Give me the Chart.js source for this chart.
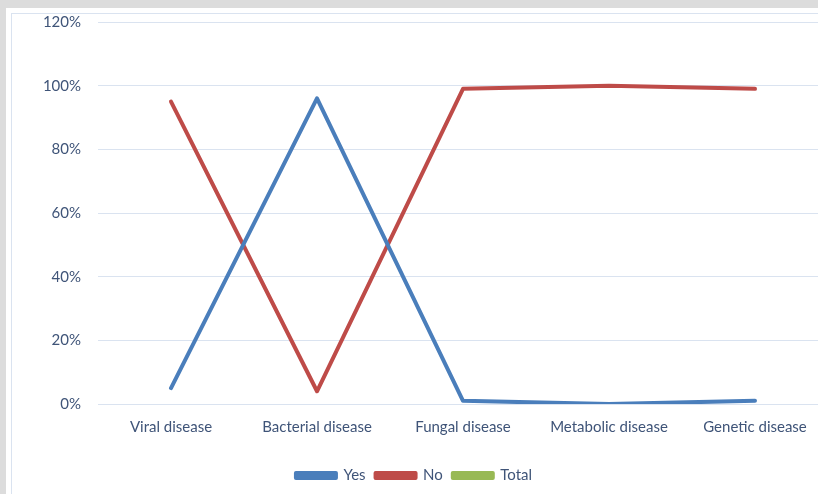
<!DOCTYPE html>
<html>
<head>
<meta charset="utf-8">
<script src="https://cdn.jsdelivr.net/npm/chart.js@4"></script>
<style>
  body { margin: 0; background: #dcdcdc; overflow: hidden; width: 818px; height: 494px; position: relative; }
  #panel { position: absolute; left: 6px; top: 8px; width: 830px; height: 500px; background: #fff; }
  #frame { position: absolute; left: 11px; top: 13px; width: 830px; height: 500px; border: 1px solid #dae3f0; box-sizing: border-box; }
  #wrap { position: absolute; left: 0; top: 0; width: 840px; height: 494px; }
</style>
</head>
<body>
<div id="panel"></div>
<div id="frame"></div>
<div id="wrap"><canvas id="chart"></canvas></div>
<script>
document.addEventListener("DOMContentLoaded", () => {
    const categories = ["Viral disease", "Bacterial disease", "Fungal disease", "Metabolic disease", "Genetic disease"];
    const yesValues = [5, 96, 1, 0, 1];
    const noValues = [95, 4, 99, 100, 99];
    const totalValues = [null, null, null, null, null]; // not drawn in the original
    const yTicks = [0, 20, 40, 60, 80, 100, 120];

    const textColor = "#3f5478";
    const font = { family: "Lato, 'Open Sans', sans-serif", size: 15 };

    const ctx = document.getElementById("chart").getContext("2d");
    new Chart(ctx, {
        type: 'line',
        data: {
            labels: categories,
            datasets: [
                { label: 'Yes', data: yesValues, borderColor: '#4a7ebb', backgroundColor: '#4a7ebb' },
                { label: 'No', data: noValues, borderColor: '#be4b48', backgroundColor: '#be4b48' },
                { label: 'Total', data: totalValues, borderColor: '#98b954', backgroundColor: '#98b954' }
            ]
        },
        options: {
            responsive: true,
            maintainAspectRatio: false,
            animation: false,
            layout: { padding: { top: 22, right: 12, bottom: 1, left: 0 } },
            elements: {
                line: { borderWidth: 4, tension: 0, borderCapStyle: 'round', borderJoinStyle: 'round' },
                point: { radius: 0, hoverRadius: 0 }
            },
            plugins: {
                legend: {
                    position: 'bottom',
                    labels: {
                        color: textColor,
                        font: font,
                        boxWidth: 40,
                        boxHeight: 5,
                        padding: 10
                    }
                },
                tooltip: { enabled: false }
            },
            scales: {
                x: {
                    offset: true,
                    grid: { display: false },
                    border: { display: false },
                    ticks: { color: textColor, font: font, padding: 6, maxRotation: 0 },
                    afterFit: (scale) => { scale.height = 54; }
                },
                y: {
                    min: 0,
                    max: 120,
                    afterBuildTicks: (scale) => { scale.ticks = yTicks.map(v => ({ value: v })); },
                    grid: { color: '#dae3f0', lineWidth: 1, drawTicks: false },
                    border: { display: false },
                    ticks: {
                        color: textColor,
                        font: font,
                        padding: 17,
                        callback: (v) => v + '%'
                    },
                    afterFit: (scale) => {
                        scale.width = 98;
                        scale.paddingTop = 0;
                        scale.paddingBottom = 0;
                    }
                }
            }
        }
    });
});
</script>
</body>
</html>
